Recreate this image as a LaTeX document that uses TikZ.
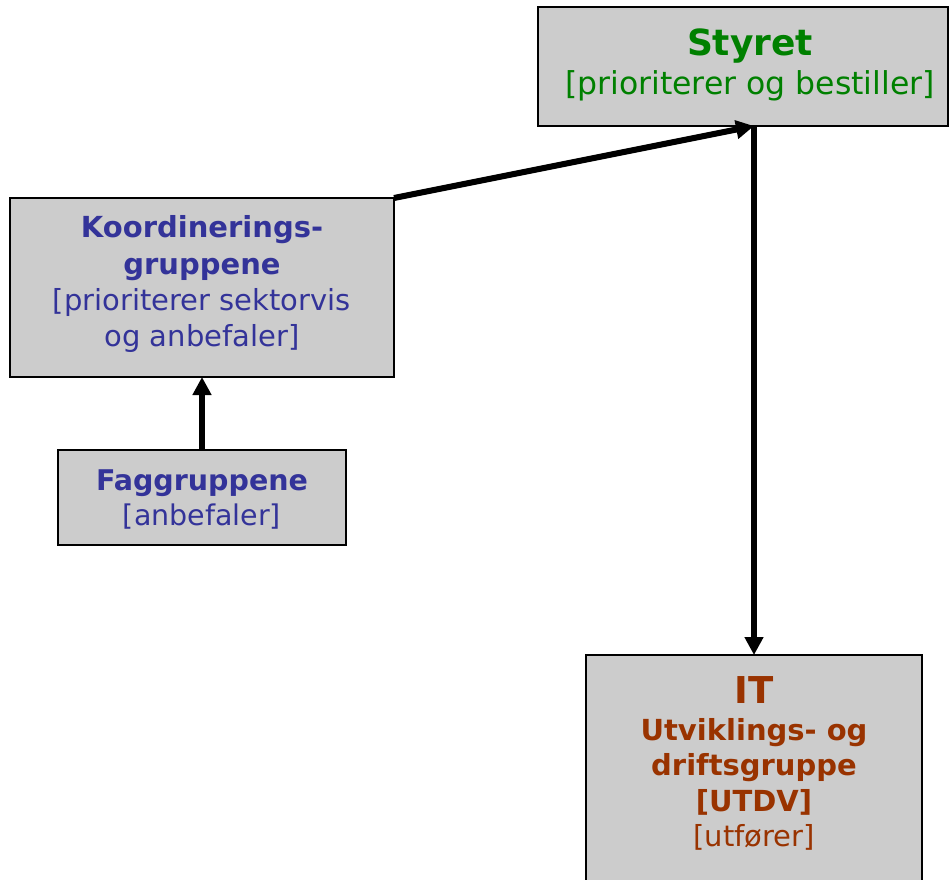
\documentclass[tikz,border=0pt]{standalone}
\usepackage{fontspec}
\setmainfont{DejaVu Sans}
\usetikzlibrary{arrows.meta}
\definecolor{boxgray}{HTML}{CCCCCC}
\definecolor{tgreen}{HTML}{008000}
\definecolor{tblue}{HTML}{333399}
\definecolor{tbrown}{HTML}{993300}
\tikzset{
  orgbox/.style={draw=black, line width=2pt, fill=boxgray, inner sep=0pt, outer sep=0pt},
  conn/.style={line width=6pt, -{Triangle[width=18pt,length=18pt]}},
  txt/.style={anchor=base, inner sep=0pt},
}
\newcommand{\fsz}[1]{\fontsize{#1}{#1}\selectfont}
\begin{document}
\begin{tikzpicture}[x=1pt,y=-1pt]
\clip (0,0) rectangle (952,879);
\fill[white] (0,0) rectangle (952,879);
% boxes
\node[orgbox, minimum width=410pt, minimum height=119pt] (styret) at (743,66.5) {};
\node[orgbox, minimum width=384pt, minimum height=179pt] (koord) at (202,287.5) {};
\node[orgbox, minimum width=288pt, minimum height=95pt] (fagg) at (202,497.5) {};
\node[orgbox, minimum width=336pt, minimum height=260pt] (it) at (754,785) {};
% texts
\node[txt, text=tgreen, font=\bfseries\fsz{36}] (styretT) at (750,55) {Styret};
\node[txt, text=tgreen, font=\fsz{31.5}] (styretS) at (750,94) {[prioriterer og bestiller]};
\node[txt, text=tblue, font=\bfseries\fsz{29}] (koordT1) at (202,237) {Koordinerings-};
\node[txt, text=tblue, font=\bfseries\fsz{29}] (koordT2) at (202,274) {gruppene};
\node[txt, text=tblue, font=\fsz{29}] (koordS1) at (202,310) {[prioriterer sektorvis};
\node[txt, text=tblue, font=\fsz{29}] (koordS2) at (202,346) {og anbefaler]};
\node[txt, text=tblue, font=\bfseries\fsz{28.5}] (faggT) at (202,490) {Faggruppene};
\node[txt, text=tblue, font=\fsz{28.5}] (faggS) at (202,525) {[anbefaler]};
\node[txt, text=tbrown, font=\bfseries\fsz{37}] (itT) at (754,703) {IT};
\node[txt, text=tbrown, font=\bfseries\fsz{29}] (itT1) at (754,740) {Utviklings- og};
\node[txt, text=tbrown, font=\bfseries\fsz{29}] (itT2) at (754,775) {driftsgruppe};
\node[txt, text=tbrown, font=\bfseries\fsz{29}] (itT3) at (754,811) {[UTDV]};
\node[txt, text=tbrown, font=\fsz{29}] (itS) at (754,846) {[utfører]};
% connectors
\coordinate (hub) at (styret.south -| it.north);
\draw[conn] (koord.north east) -- (hub);
\draw[conn] (hub) -- (it.north);
\draw[conn] (fagg.north) -- (koord.south);
\end{tikzpicture}
\end{document}
